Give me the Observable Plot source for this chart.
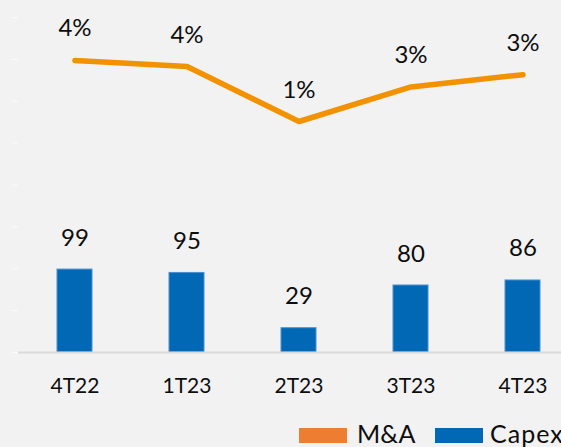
<!DOCTYPE html>
<html>
<head>
<meta charset="utf-8">
<script src="https://cdn.jsdelivr.net/npm/d3@7"></script>
<script src="https://cdn.jsdelivr.net/npm/@observablehq/plot@0.6"></script>
<style>
  html, body { margin: 0; padding: 0; background: #f2f2f2; width: 561px; height: 447px; overflow: hidden; }
  #chart svg { display: block; background: #f2f2f2; }
  #legend { position: relative; width: 561px; height: 47px; font-family: Lato, "Open Sans", sans-serif; font-size: 25px; color: #0d0d0d; }
  #legend .sw { position: absolute; top: 28px; width: 48px; height: 15px; }
  #legend .lb { position: absolute; top: 21px; line-height: 25px; white-space: nowrap; }
</style>
</head>
<body>
<div id="chart"></div>
<div id="legend">
  <div class="sw" style="left:299px;background:#ED7D31"></div><span class="lb" style="left:357px">M&amp;A</span>
  <div class="sw" style="left:435px;background:#0068B4"></div><span class="lb" style="left:490px;letter-spacing:1px">Capex</span>
</div>
<script>
const quarters = ["4T22", "1T23", "2T23", "3T23", "4T23"];
const capex = [99, 95, 29, 80, 86];
const maPct = [4.0, 3.7, 1.0, 2.7, 3.3];
const yTicks = [0, 50, 100, 150, 200, 250, 300, 350, 400];
// secondary (percent) axis domain, mapped onto the primary [0, 400] range
const pctDomain = [-10.35, 6.11];
const yDomain = [0, 400];

const data = quarters.map((q, i) => ({q, capex: capex[i], pct: maPct[i]}));
const toPrimary = p => (p - pctDomain[0]) / (pctDomain[1] - pctDomain[0]) * (yDomain[1] - yDomain[0]) + yDomain[0];

const font = "Lato, 'Open Sans', sans-serif";

const chart = Plot.plot({
  width: 561,
  height: 400,
  marginLeft: 18,
  marginRight: 0,
  marginTop: 17,
  marginBottom: 48,
  style: {background: "#f2f2f2", fontFamily: font, color: "#0d0d0d", overflow: "hidden"},
  x: {type: "band", domain: quarters, range: [18, 578], paddingInner: 0.69, paddingOuter: 0.345, label: null},
  y: {domain: yDomain, label: null},
  marks: [
    Plot.axisY({ticks: yTicks, tickSize: 6, tickFormat: () => "", stroke: "#fbfbfb", label: null}),
    Plot.barY(data, {x: "q", y: "capex", fill: "#0068B4", stroke: "#4a8fcf", strokeWidth: 1}),
    Plot.ruleY([0], {stroke: "#d9d9d9", strokeWidth: 2}),
    Plot.text(data, {x: "q", y: "capex", text: d => String(d.capex), dy: -24, lineAnchor: "bottom", fontSize: 24, fill: "#0d0d0d"}),
    Plot.line(data, {x: "q", y: d => toPrimary(d.pct), stroke: "#F39200", strokeWidth: 5.5, strokeLinecap: "round", strokeLinejoin: "round"}),
    Plot.text(data, {x: "q", y: d => toPrimary(d.pct), text: d => Math.round(d.pct) + "%", dy: -24, lineAnchor: "bottom", fontSize: 24, fill: "#0d0d0d"}),
    Plot.axisX({tickSize: 0, tickPadding: 26, fontSize: 21, fill: "#0d0d0d", label: null})
  ]
});
document.getElementById("chart").appendChild(chart);
</script>
</body>
</html>
